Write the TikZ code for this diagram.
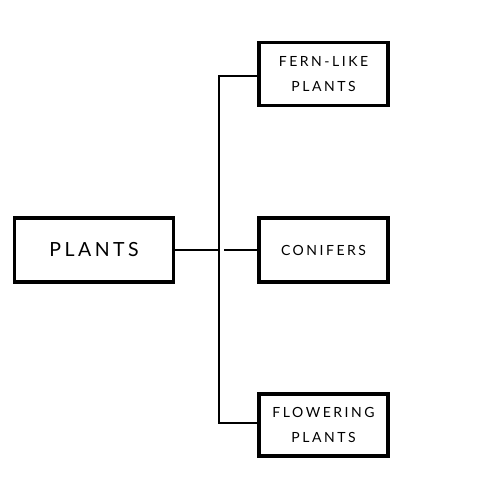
\documentclass[tikz,border=0pt]{standalone}
\usepackage{fontspec}
\setmainfont{Lato}[LetterSpace=18]
\begin{document}
\begin{tikzpicture}[x=1pt,y=-1pt,
  box/.style={draw=black,line width=3.5pt,fill=white,inner sep=0pt,align=center},
  conn/.style={draw=black,line width=1.3pt}]
\useasboundingbox (0,0) rectangle (480,480);
\node[box,minimum width=159pt,minimum height=64pt,font=\fontsize{19.5}{20}\selectfont] (plants) at (94,250) {PLANTS};
\node[box,minimum width=129pt,minimum height=63pt,font=\fontsize{14}{25}\selectfont] (fern) at (323.5,74) {FERN-LIKE\\PLANTS};
\node[box,minimum width=129pt,minimum height=64pt,font=\fontsize{14}{25}\selectfont] (conif) at (323.5,250) {CONIFERS};
\node[box,minimum width=129pt,minimum height=62pt,font=\fontsize{14}{25}\selectfont] (flow) at (323.5,425) {FLOWERING\\PLANTS};
\coordinate (jtop) at (219,76);
\coordinate (jmid) at (219,250);
\coordinate (jbot) at (219,423);
\coordinate (gap) at (224,250);
\draw[conn] (plants.east) -- (jmid);
\draw[conn] (fern.west |- jtop) -- (jtop) -- (jbot) -- (flow.west |- jbot);
\draw[conn] (gap) -- (conif.west);
\end{tikzpicture}
\end{document}
